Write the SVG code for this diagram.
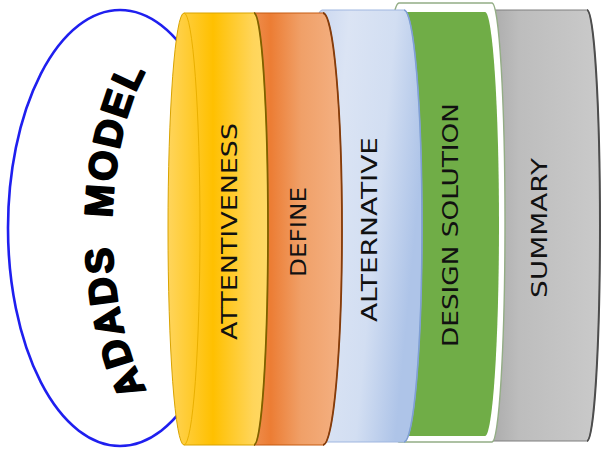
<svg xmlns="http://www.w3.org/2000/svg" width="605" height="450" viewBox="0 0 605 450">
<defs>
<linearGradient id="gY" x1="0" y1="0" x2="1" y2="0">
<stop offset="0" stop-color="#ffd55c"/><stop offset="0.45" stop-color="#ffc000"/><stop offset="0.85" stop-color="#ffd55a"/><stop offset="1" stop-color="#ffd966"/>
</linearGradient>
<linearGradient id="gO" x1="0" y1="0" x2="1" y2="0">
<stop offset="0" stop-color="#f09a60"/><stop offset="0.3" stop-color="#ec7d34"/><stop offset="0.6" stop-color="#f0a068"/><stop offset="1" stop-color="#f4b183"/>
</linearGradient>
<linearGradient id="gB" x1="0" y1="0" x2="1" y2="0.35">
<stop offset="0" stop-color="#c3d2ee"/><stop offset="0.35" stop-color="#dbe4f4"/><stop offset="0.7" stop-color="#d2def2"/><stop offset="1" stop-color="#aec4e8"/>
</linearGradient>
<linearGradient id="gG" x1="0" y1="0" x2="1" y2="0">
<stop offset="0" stop-color="#a2a2a2"/><stop offset="0.35" stop-color="#bdbdbd"/><stop offset="1" stop-color="#cacaca"/>
</linearGradient>
<path id="arc" d="M152.5,400 A88,202 0 0 1 152.5,60"/>
<style>
.lbl{font-family:"DejaVu Sans","Liberation Sans",sans-serif;font-size:21px;fill:#111;text-anchor:middle}
.edge{fill:none}
</style>
</defs>
<g id="oval">
<ellipse cx="120" cy="228" rx="112" ry="218" fill="#fff" stroke="#1f1fef" stroke-width="2.6"/>
<text font-family="Liberation Sans, Arial, sans-serif" font-weight="bold" font-size="39" fill="#000" stroke="#000" stroke-width="2" stroke-linejoin="round" letter-spacing="2.5"><textPath href="#arc" startOffset="50%" text-anchor="middle">ADADS&#160;&#160;MODEL</textPath></text>
</g>
<g id="summary">
<path d="M490,10 A14,215.5 0 0 0 490,441 L587,441 A13,215.5 0 0 0 587,10 Z" fill="url(#gG)" stroke="#7f7f7f" stroke-width="1"/>
<path class="edge" d="M587,441 A13,215.5 0 0 0 587,10" stroke="#4d4d4d" stroke-width="2"/>
<text class="lbl" transform="translate(547,228) rotate(-90)" textLength="140" lengthAdjust="spacingAndGlyphs">SUMMARY</text>
</g>
<g id="design-solution">
<path d="M399,3 A16,219.5 0 0 0 399,442 L492,442 A13,219.5 0 0 0 492,3 Z" fill="#fff" stroke="#93ad85" stroke-width="1.4"/>
<path d="M405,12 A16,212 0 0 0 405,436 L485,436 A14,212 0 0 0 485,12 Z" fill="#70ad47"/>
<text class="lbl" transform="translate(458,225) rotate(-90)" textLength="244" lengthAdjust="spacingAndGlyphs">DESIGN SOLUTION</text>
</g>
<g id="alternative">
<path d="M322,10 A18,216 0 0 0 322,442 L404,442 A18,216 0 0 0 404,10 Z" fill="url(#gB)" stroke="#9fb6e0" stroke-width="1"/>
<path class="edge" d="M404,442 A18,216 0 0 0 404,10" stroke="#7f9fd4" stroke-width="1.6"/>
<text class="lbl" transform="translate(377,229.5) rotate(-90)" textLength="185" lengthAdjust="spacingAndGlyphs">ALTERNATIVE</text>
</g>
<g id="define">
<path d="M254,13 A14,216 0 0 0 254,445 L323,445 A19,216 0 0 0 323,13 Z" fill="url(#gO)" stroke="#c55a11" stroke-width="1"/>
<path class="edge" d="M323,445 A19,216 0 0 0 323,13" stroke="#843c0c" stroke-width="1.8"/>
<text class="lbl" transform="translate(306,232) rotate(-90)" textLength="90" lengthAdjust="spacingAndGlyphs">DEFINE</text>
</g>
<g id="attentiveness">
<path d="M184,13 A16,216 0 0 0 184,445 L254,445 A14,216 0 0 0 254,13 Z" fill="url(#gY)" stroke="#d9a300" stroke-width="1"/>
<path class="edge" d="M184,13 A16,216 0 0 1 184,445" stroke="#eab000" stroke-width="1"/>
<path class="edge" d="M254,445 A14,216 0 0 0 254,13" stroke="#7f6000" stroke-width="1.8"/>
<text class="lbl" transform="translate(237,231.5) rotate(-90)" textLength="217" lengthAdjust="spacingAndGlyphs">ATTENTIVENESS</text>
</g>
<g id="connectors"/>
</svg>
